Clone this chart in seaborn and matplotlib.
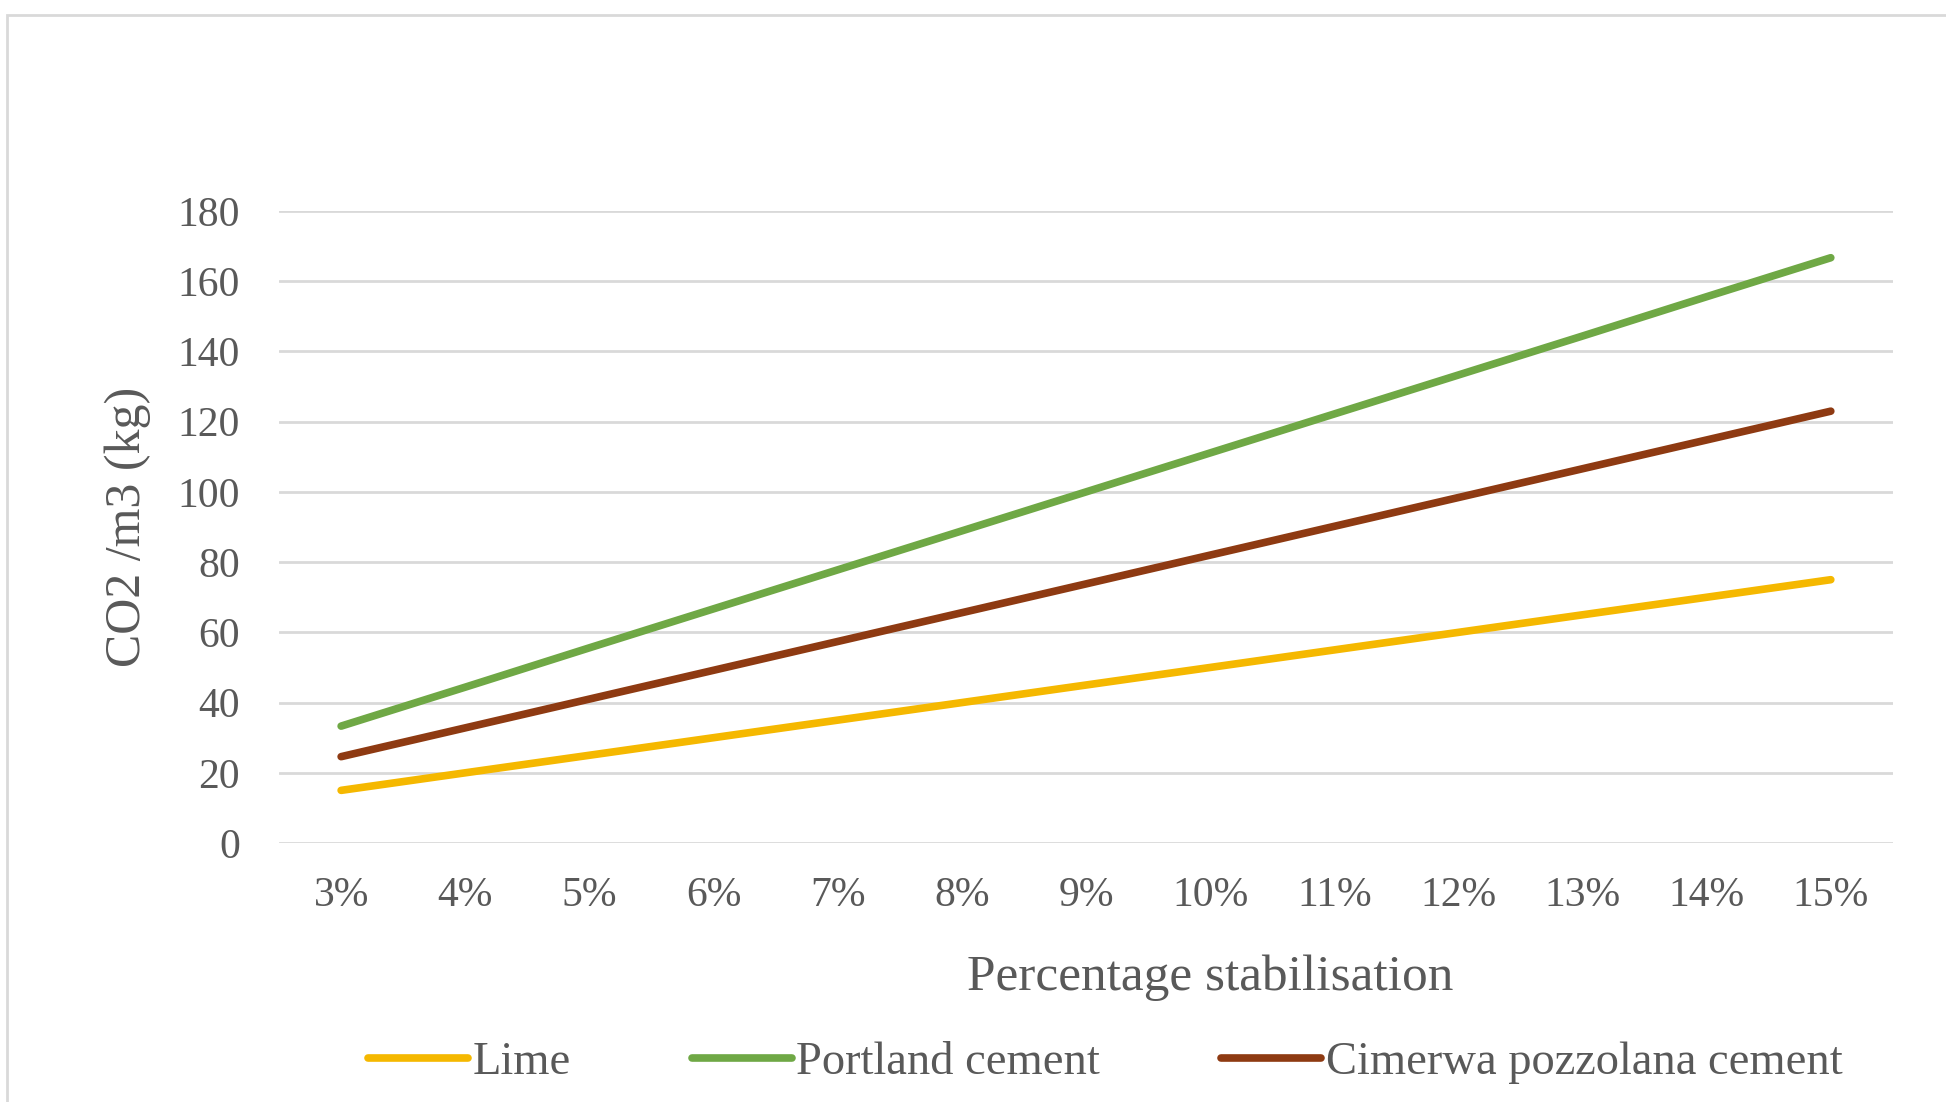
import matplotlib
matplotlib.use("Agg")
import matplotlib.pyplot as plt
from matplotlib.lines import Line2D
from matplotlib.patches import Rectangle
import pandas as pd
import seaborn as sns

# CO2 emitted per m3 of stabilised soil, by stabiliser content
percentages = ["3%", "4%", "5%", "6%", "7%", "8%", "9%", "10%",
               "11%", "12%", "13%", "14%", "15%"]
lime = [15, 20, 25, 30, 35, 40, 45, 50, 55, 60, 65, 70, 75]
portland_cement = [33.3, 44.4, 55.6, 66.7, 77.8, 88.9, 100.0, 111.1,
                   122.2, 133.3, 144.4, 155.6, 166.7]
cimerwa_cement = [24.6, 32.8, 41.0, 49.2, 57.4, 65.6, 73.8, 82.0,
                  90.2, 98.4, 106.6, 114.8, 123.0]

series_names = ["Lime", "Portland cement", "Cimerwa pozzolana cement"]
series_values = [lime, portland_cement, cimerwa_cement]
colors = ["#F5B800", "#6FA845", "#8E3A12"]
y_ticks = [0, 20, 40, 60, 80, 100, 120, 140, 160, 180]

df = pd.concat(
    [pd.DataFrame({"pct": percentages, "co2": vals, "material": name})
     for name, vals in zip(series_names, series_values)],
    ignore_index=True,
)

sns.set_theme(style="white")
plt.rcParams["font.family"] = ["Liberation Serif", "DejaVu Serif"]
text_color = "#595959"
grid_color = "#D9D9D9"

fig = plt.figure(figsize=(19.46, 11.02), dpi=100)
ax = fig.add_axes([0.1434, 0.235, 0.9727 - 0.1434, 0.8085 - 0.235])

palette = dict(zip(series_names, colors))
sns.lineplot(data=df, x="pct", y="co2", hue="material", palette=palette,
             linewidth=5.5, sort=False, legend=False, ax=ax)

ax.set_xlim(-0.5, len(percentages) - 0.5)
ax.set_ylim(0, 180)
ax.set_yticks(y_ticks)
ax.set_xticks(range(len(percentages)))
ax.set_xticklabels(percentages)
ax.grid(axis="y", color=grid_color, linewidth=2)
ax.set_axisbelow(True)
for s in ax.spines.values():
    s.set_visible(False)
ax.tick_params(axis="both", length=0, labelsize=30, labelcolor=text_color)
ax.tick_params(axis="y", pad=28)
ax.tick_params(axis="x", pad=24)

ax.set_xlabel("Percentage stabilisation", fontsize=37, color=text_color)
ax.set_ylabel("CO2 /m3 (kg)", fontsize=36, color=text_color)
ax.xaxis.set_label_coords(0.577, -0.2136)
ax.yaxis.set_label_coords(-0.0936, 0.5)
ax.xaxis.label.set_va("center")
ax.yaxis.label.set_va("center")

handles = [Line2D([], [], color=c, linewidth=5.5) for c in colors]
fig.legend(handles, series_names, loc="center", bbox_to_anchor=(0.568, 0.0354),
           ncol=3, frameon=False, fontsize=33.5, handlelength=2.15,
           handletextpad=0.1, columnspacing=2.6, labelcolor=text_color)

# light chart-area border
fig.patches.append(Rectangle((0.0036, -0.1), 1.2, 0.986 + 0.1,
                             transform=fig.transFigure, fill=False,
                             edgecolor=grid_color, linewidth=2))

fig.savefig("out.png", dpi=100, facecolor="white")
